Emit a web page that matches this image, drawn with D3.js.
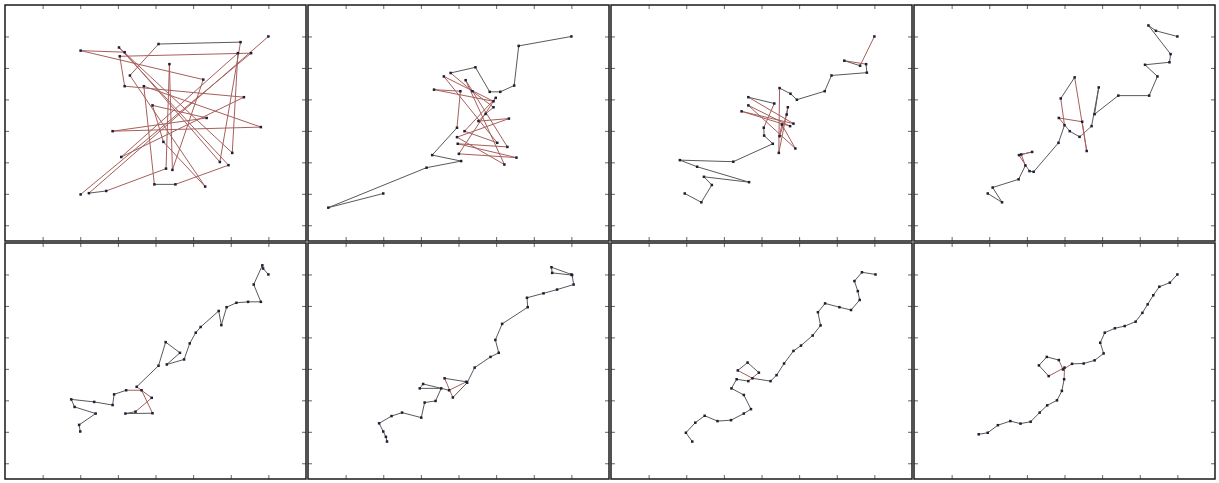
<!DOCTYPE html>
<html>
<head>
<meta charset="utf-8">
<script src="https://cdn.jsdelivr.net/npm/d3@7"></script>
<style>
  body { margin: 0; background: #fff; }
  svg { display: block; }
</style>
</head>
<body>
<div id="chart_box"></div>
<script>
// one path of [x, y] points per panel, in drawing order
var path1 = [[2.01,1.98],[6.54,6.47],[3.05,6.37],[3.18,5.42],[6.35,5.07],[3.09,3.17],[6.19,6.47],[6.04,3.30],
  [3.03,6.65],[5.94,2.91],[4.53,2.30],[3.97,2.30],[3.69,5.42],[6.80,4.12],[2.86,3.99],[5.36,4.41],[3.92,4.81],
  [4.21,3.65],[5.32,2.23],[3.32,5.76],[4.08,6.76],[6.26,6.82],[5.71,3.01],[3.18,6.50],[2.01,6.55],[5.27,5.63],
  [4.45,2.76],[4.37,6.12],[4.28,2.80],[2.69,2.09],[2.23,2.02],[7.00,7.00]];
var path2 = [[2.00,2.01],[0.54,1.56],[3.15,2.83],[4.07,3.04],[3.30,3.23],[3.96,4.10],[4.05,5.26],[3.35,5.31],
  [4.93,4.94],[3.61,5.73],[5.03,3.62],[4.16,3.99],[4.99,5.05],[4.01,3.27],[5.54,3.15],[3.98,3.59],[5.30,3.49],
  [4.19,5.61],[5.22,2.93],[3.96,3.80],[5.34,4.39],[4.53,4.31],[4.72,4.54],[4.93,4.75],[4.37,5.26],[3.79,5.84],
  [4.45,6.02],[4.83,5.24],[5.11,5.24],[5.48,5.44],[5.60,6.70],[7.00,7.00]];
var path3 = [[1.96,2.01],[2.40,1.73],[2.68,2.28],[2.47,2.54],[3.67,2.37],[2.29,2.86],[1.83,3.07],[3.25,3.02],
  [4.30,3.59],[4.07,3.85],[4.06,4.10],[4.34,4.87],[3.65,5.07],[4.85,4.23],[3.47,4.62],[4.76,4.15],[3.65,4.81],
  [4.90,3.44],[4.54,4.20],[4.48,3.83],[4.67,4.52],[4.70,4.75],[4.46,3.30],[4.48,5.36],[4.77,5.18],[4.94,4.99],
  [5.68,5.26],[5.86,5.76],[6.80,5.85],[6.78,6.12],[6.20,6.23],[6.62,6.07],[7.00,7.00]];
var path4 = [[1.96,2.01],[2.34,1.73],[2.09,2.20],[2.78,2.46],[2.96,2.90],[2.85,3.25],[3.14,3.33],[2.79,3.23],
  [3.07,2.72],[3.18,2.70],[3.84,3.62],[4.00,4.18],[3.90,5.03],[4.27,5.70],[4.59,3.36],[4.47,4.29],[3.85,4.41],
  [4.14,3.99],[4.40,3.81],[4.72,4.15],[4.91,5.38],[4.80,4.53],[5.43,5.12],[6.25,5.12],[6.47,5.73],[6.14,6.10],
  [6.79,6.18],[6.82,6.44],[6.23,7.35],[6.43,7.18],[7.00,7.00]];
var path5 = [[2.00,2.01],[1.97,2.22],[2.41,2.58],[1.85,2.79],[1.76,3.03],[2.37,2.95],[2.86,2.85],[2.90,3.19],
  [3.22,3.32],[3.63,3.32],[3.92,2.59],[3.20,2.58],[3.47,2.64],[3.90,3.08],[3.50,3.43],[4.08,4.10],[4.27,4.85],
  [4.65,4.51],[4.30,4.14],[4.76,4.30],[4.91,4.81],[5.07,5.15],[5.20,5.33],[5.68,5.84],[5.75,5.39],[5.89,5.96],
  [6.15,6.10],[6.46,6.13],[6.80,6.13],[6.61,6.68],[6.84,7.29],[6.86,7.19],[7.00,7.00]];
var path6 = [[2.10,1.69],[2.07,1.84],[2.00,2.01],[1.89,2.27],[2.22,2.50],[2.50,2.61],[3.01,2.45],[3.10,2.93],
  [3.39,2.98],[3.54,3.38],[2.97,3.38],[3.06,3.52],[3.75,3.32],[4.21,3.59],[3.63,3.70],[3.85,3.09],[4.23,3.56],
  [4.43,4.04],[4.85,4.38],[5.07,4.51],[4.98,4.92],[5.16,5.43],[5.84,5.96],[5.82,6.26],[6.26,6.40],[6.62,6.52],
  [7.06,6.68],[7.02,6.98],[6.49,7.05],[6.47,7.23],[7.00,7.00]];
var path7 = [[2.16,1.69],[1.99,1.97],[2.24,2.29],[2.49,2.51],[2.83,2.34],[3.19,2.37],[3.53,2.58],[3.72,2.72],
  [3.53,3.17],[3.20,3.38],[3.34,3.67],[3.65,3.61],[3.93,3.88],[3.63,4.20],[3.37,3.95],[3.76,3.70],[4.24,3.61],
  [4.40,3.80],[4.60,4.17],[4.85,4.57],[5.05,4.74],[5.36,5.06],[5.57,5.38],[5.50,5.80],[5.69,6.08],[6.07,5.96],
  [6.38,5.87],[6.61,6.19],[6.56,6.47],[6.47,6.79],[6.67,7.07],[7.03,7.00]];
var path8 = [[1.72,1.92],[1.96,1.97],[2.23,2.21],[2.56,2.34],[2.83,2.26],[3.10,2.32],[3.34,2.61],[3.54,2.84],
  [3.80,3.00],[3.93,3.30],[3.99,3.67],[4.00,4.04],[3.58,3.77],[3.32,4.11],[3.53,4.38],[3.85,4.28],[3.96,3.98],
  [4.20,4.16],[4.51,4.17],[4.80,4.27],[5.04,4.49],[4.95,4.83],[5.07,5.15],[5.34,5.29],[5.60,5.36],[5.89,5.50],
  [6.07,5.78],[6.21,6.05],[6.36,6.34],[6.52,6.61],[6.80,6.74],[7.00,7.00]];

var paths = [path1, path2, path3, path4, path5, path6, path7, path8];
var xTicks = [1, 2, 3, 4, 5, 6, 7];
var yTicks = [1, 2, 3, 4, 5, 6, 7];

var width = 1219, height = 483;
var panelW = 301, panelH = 236;
var colX = [5, 308, 611, 914];
var rowY = [5, 243];

var cross_color = "#a65f5c";
var line_color = "#595959";
var point_color = "#1e1e36";

var svg = d3.select("#chart_box").append("svg")
    .attr("width", width)
    .attr("height", height);

// true when segments p1-p2 and p3-p4 properly intersect
function crosses(p1, p2, p3, p4) {
    function orient(a, b, c) {
        return (b[0] - a[0]) * (c[1] - a[1]) - (b[1] - a[1]) * (c[0] - a[0]);
    }
    var d1 = orient(p3, p4, p1), d2 = orient(p3, p4, p2);
    var d3_ = orient(p1, p2, p3), d4 = orient(p1, p2, p4);
    return ((d1 > 0) != (d2 > 0)) && ((d3_ > 0) != (d4 > 0));
}

paths.forEach(function (pts, i) {
    var x0 = colX[i % 4], y0 = rowY[Math.floor(i / 4)];

    var x = d3.scaleLinear().domain([0, 8]).range([x0, x0 + panelW]);
    var y = d3.scaleLinear().domain([0.5, 8]).range([y0 + panelH, y0]);

    var g = svg.append("g");

    // segments, red where the path crosses itself
    var segs = [];
    for (var k = 0; k < pts.length - 1; k++) segs.push({ a: pts[k], b: pts[k + 1], hit: false });
    for (var m = 0; m < segs.length; m++) {
        for (var n = m + 2; n < segs.length; n++) {
            if (crosses(segs[m].a, segs[m].b, segs[n].a, segs[n].b)) {
                segs[m].hit = true;
                segs[n].hit = true;
            }
        }
    }

    g.selectAll(".seg")
        .data(segs)
        .enter().append("line")
        .attr("class", "seg")
        .attr("x1", function (d) { return x(d.a[0]); })
        .attr("y1", function (d) { return y(d.a[1]); })
        .attr("x2", function (d) { return x(d.b[0]); })
        .attr("y2", function (d) { return y(d.b[1]); })
        .style("stroke", function (d) { return d.hit ? cross_color : line_color; })
        .style("stroke-width", 1);

    g.selectAll(".pt")
        .data(pts)
        .enter().append("rect")
        .attr("class", "pt")
        .attr("x", function (d) { return x(d[0]) - 1.25; })
        .attr("y", function (d) { return y(d[1]) - 1.25; })
        .attr("width", 2.5)
        .attr("height", 2.5)
        .style("fill", point_color);

    // inward ticks on all four sides, no labels
    var axes = [
        [d3.axisTop(x).tickValues(xTicks), "translate(0," + (y0 + panelH) + ")"],
        [d3.axisBottom(x).tickValues(xTicks), "translate(0," + y0 + ")"],
        [d3.axisRight(y).tickValues(yTicks), "translate(" + x0 + ",0)"],
        [d3.axisLeft(y).tickValues(yTicks), "translate(" + (x0 + panelW) + ",0)"]
    ];
    axes.forEach(function (a) {
        var ax = g.append("g")
            .attr("transform", a[1])
            .call(a[0].tickSize(4).tickSizeOuter(0).tickFormat(""));
        ax.select(".domain").remove();
        ax.selectAll(".tick line").style("stroke", "#666");
    });

    g.append("rect")
        .attr("x", x0)
        .attr("y", y0)
        .attr("width", panelW)
        .attr("height", panelH)
        .style("fill", "none")
        .style("stroke", "#1a1a1a")
        .style("stroke-width", 1.5);
});
</script>
</body>
</html>
